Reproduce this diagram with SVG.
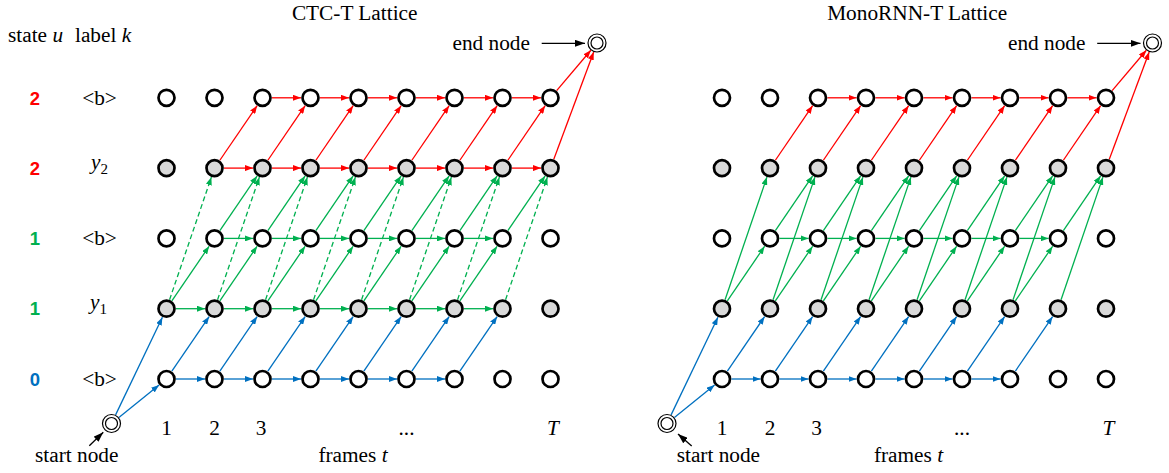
<svg xmlns="http://www.w3.org/2000/svg" width="1169" height="473" viewBox="0 0 1169 473">
  <style>
    .n { stroke: #000; stroke-width: 2.7; fill: #fff; }
    .n.lab { fill: #D9D9D9; }
    .term { stroke: #000; stroke-width: 1.2; fill: #fff; }
    .e line { fill: none; stroke-width: 1.3; }
    .red line { stroke: #FF0000; marker-end: url(#ah-red); }
    .grn line { stroke: #00B050; marker-end: url(#ah-grn); }
    .blu line { stroke: #0070C0; marker-end: url(#ah-blu); }
    .dash line { stroke-dasharray: 5 3; }
    .ptr { stroke: #000; stroke-width: 1.6; marker-end: url(#ah-blk); }
    .t { font-family: "Liberation Serif", "Times New Roman", serif; font-size: 21.3px; fill: #000; }
    .i { font-style: italic; }
    .sub { font-size: 15px; }
    .st { font-family: "Liberation Sans", Arial, sans-serif; font-weight: bold; font-size: 18.5px; text-anchor: middle; }
    .mid { text-anchor: middle; }
  </style>
  <defs>
    <marker id="ah-red" viewBox="0 0 8 6" refX="8" refY="3" markerWidth="8" markerHeight="6" markerUnits="userSpaceOnUse" orient="auto"><path d="M0,0 L8,3 L0,6 z" fill="#FF0000"/></marker>
    <marker id="ah-grn" viewBox="0 0 8 6" refX="8" refY="3" markerWidth="8" markerHeight="6" markerUnits="userSpaceOnUse" orient="auto"><path d="M0,0 L8,3 L0,6 z" fill="#00B050"/></marker>
    <marker id="ah-blu" viewBox="0 0 8 6" refX="8" refY="3" markerWidth="8" markerHeight="6" markerUnits="userSpaceOnUse" orient="auto"><path d="M0,0 L8,3 L0,6 z" fill="#0070C0"/></marker>
    <marker id="ah-blk" viewBox="0 0 10 7" refX="10" refY="3.5" markerWidth="10" markerHeight="7" markerUnits="userSpaceOnUse" orient="auto"><path d="M0,0 L10,3.5 L0,7 z" fill="#000"/></marker>
  </defs>

  <!-- row headings -->
  <g id="row-labels">
    <text class="t" y="42"><tspan x="8">state</tspan><tspan x="52.5" class="i">u</tspan><tspan x="75">label</tspan><tspan x="121.7" class="i">k</tspan></text>
    <text class="st" x="35" y="104.5" fill="#FF0000">2</text>
    <text class="st" x="35" y="174.5" fill="#FF0000">2</text>
    <text class="st" x="35" y="245" fill="#00B050">1</text>
    <text class="st" x="35" y="315" fill="#00B050">1</text>
    <text class="st" x="35" y="385.5" fill="#0070C0">0</text>
    <text class="t mid" x="99.5" y="104.5">&lt;b&gt;</text>
    <text class="t" x="91" y="168.5"><tspan class="i">y</tspan><tspan class="sub" dy="5">2</tspan></text>
    <text class="t mid" x="99.5" y="245">&lt;b&gt;</text>
    <text class="t" x="90" y="309"><tspan class="i">y</tspan><tspan class="sub" dy="5">1</tspan></text>
    <text class="t mid" x="99.5" y="385.5">&lt;b&gt;</text>
  </g>

  <!-- ===================== CTC-T lattice ===================== -->
  <g id="ctc">
    <text class="t mid" x="354.7" y="19.5">CTC-T Lattice</text>

    <g id="ctc-connectors" class="e">
      <g class="blu">
        <line x1="118.9" y1="417.5" x2="159.1" y2="385"/>
        <line x1="115.6" y1="414.9" x2="162.4" y2="317.3"/>
        <line x1="176" y1="379" x2="205" y2="379"/>
        <line x1="224" y1="379" x2="253" y2="379"/>
        <line x1="272" y1="379" x2="301" y2="379"/>
        <line x1="320" y1="379" x2="349" y2="379"/>
        <line x1="368" y1="379" x2="397" y2="379"/>
        <line x1="416" y1="379" x2="445" y2="379"/>
        <line x1="171.86" y1="371.15" x2="209.14" y2="316.55"/>
        <line x1="219.86" y1="371.15" x2="257.14" y2="316.55"/>
        <line x1="267.86" y1="371.15" x2="305.14" y2="316.55"/>
        <line x1="315.86" y1="371.15" x2="353.14" y2="316.55"/>
        <line x1="363.86" y1="371.15" x2="401.14" y2="316.55"/>
        <line x1="411.86" y1="371.15" x2="449.14" y2="316.55"/>
        <line x1="459.86" y1="371.15" x2="497.14" y2="316.55"/>
      </g>
      <g class="grn">
        <!-- y1 self-loops -->
        <line x1="176" y1="308.7" x2="205" y2="308.7"/>
        <line x1="224" y1="308.7" x2="253" y2="308.7"/>
        <line x1="272" y1="308.7" x2="301" y2="308.7"/>
        <line x1="320" y1="308.7" x2="349" y2="308.7"/>
        <line x1="368" y1="308.7" x2="397" y2="308.7"/>
        <line x1="416" y1="308.7" x2="445" y2="308.7"/>
        <line x1="464" y1="308.7" x2="493" y2="308.7"/>
        <!-- y1 to blank -->
        <line x1="171.86" y1="300.85" x2="209.14" y2="246.25"/>
        <line x1="219.86" y1="300.85" x2="257.14" y2="246.25"/>
        <line x1="267.86" y1="300.85" x2="305.14" y2="246.25"/>
        <line x1="315.86" y1="300.85" x2="353.14" y2="246.25"/>
        <line x1="363.86" y1="300.85" x2="401.14" y2="246.25"/>
        <line x1="411.86" y1="300.85" x2="449.14" y2="246.25"/>
        <line x1="459.86" y1="300.85" x2="497.14" y2="246.25"/>
        <!-- blank self-loops -->
        <line x1="224" y1="238.4" x2="253" y2="238.4"/>
        <line x1="272" y1="238.4" x2="301" y2="238.4"/>
        <line x1="320" y1="238.4" x2="349" y2="238.4"/>
        <line x1="368" y1="238.4" x2="397" y2="238.4"/>
        <line x1="416" y1="238.4" x2="445" y2="238.4"/>
        <line x1="464" y1="238.4" x2="493" y2="238.4"/>
        <!-- blank to y2 -->
        <line x1="219.86" y1="230.55" x2="257.14" y2="175.95"/>
        <line x1="267.86" y1="230.55" x2="305.14" y2="175.95"/>
        <line x1="315.86" y1="230.55" x2="353.14" y2="175.95"/>
        <line x1="363.86" y1="230.55" x2="401.14" y2="175.95"/>
        <line x1="411.86" y1="230.55" x2="449.14" y2="175.95"/>
        <line x1="459.86" y1="230.55" x2="497.14" y2="175.95"/>
        <line x1="507.86" y1="230.55" x2="545.14" y2="175.95"/>
      </g>
      <g class="grn dash">
        <!-- y1 directly to y2 -->
        <line x1="169.57" y1="299.71" x2="211.43" y2="177.09"/>
        <line x1="217.57" y1="299.71" x2="259.43" y2="177.09"/>
        <line x1="265.57" y1="299.71" x2="307.43" y2="177.09"/>
        <line x1="313.57" y1="299.71" x2="355.43" y2="177.09"/>
        <line x1="361.57" y1="299.71" x2="403.43" y2="177.09"/>
        <line x1="409.57" y1="299.71" x2="451.43" y2="177.09"/>
        <line x1="457.57" y1="299.71" x2="499.43" y2="177.09"/>
        <line x1="505.57" y1="299.71" x2="547.43" y2="177.09"/>
      </g>
      <g class="red">
        <line x1="224" y1="168.1" x2="253" y2="168.1"/>
        <line x1="272" y1="168.1" x2="301" y2="168.1"/>
        <line x1="320" y1="168.1" x2="349" y2="168.1"/>
        <line x1="368" y1="168.1" x2="397" y2="168.1"/>
        <line x1="416" y1="168.1" x2="445" y2="168.1"/>
        <line x1="464" y1="168.1" x2="493" y2="168.1"/>
        <line x1="512" y1="168.1" x2="541" y2="168.1"/>
        <line x1="219.86" y1="160.25" x2="257.14" y2="105.65"/>
        <line x1="267.86" y1="160.25" x2="305.14" y2="105.65"/>
        <line x1="315.86" y1="160.25" x2="353.14" y2="105.65"/>
        <line x1="363.86" y1="160.25" x2="401.14" y2="105.65"/>
        <line x1="411.86" y1="160.25" x2="449.14" y2="105.65"/>
        <line x1="459.86" y1="160.25" x2="497.14" y2="105.65"/>
        <line x1="507.86" y1="160.25" x2="545.14" y2="105.65"/>
        <line x1="272" y1="97.8" x2="301" y2="97.8"/>
        <line x1="320" y1="97.8" x2="349" y2="97.8"/>
        <line x1="368" y1="97.8" x2="397" y2="97.8"/>
        <line x1="416" y1="97.8" x2="445" y2="97.8"/>
        <line x1="464" y1="97.8" x2="493" y2="97.8"/>
        <line x1="512" y1="97.8" x2="541" y2="97.8"/>
        <line x1="556.65" y1="90.56" x2="590.85" y2="50.24"/>
        <line x1="553.81" y1="159.19" x2="593.69" y2="51.9"/>
      </g>
      <line class="ptr" x1="89.3" y1="445.7" x2="103.3" y2="432.3"/>
      <line class="ptr" x1="541.7" y1="43.3" x2="585" y2="43.3"/>
    </g>

    <g id="ctc-nodes">
      <g id="ctc-start"><circle class="term" cx="111.5" cy="423.5" r="9"/><circle class="term" cx="111.5" cy="423.5" r="6"/></g>
      <g id="ctc-end"><circle class="term" cx="597" cy="43" r="9"/><circle class="term" cx="597" cy="43" r="6"/></g>
      <!-- state 2, blank -->
      <g id="ctc-u4-t1"><circle class="n" cx="166.5" cy="97.8" r="8"/></g>
      <g id="ctc-u4-t2"><circle class="n" cx="214.5" cy="97.8" r="8"/></g>
      <g id="ctc-u4-t3"><circle class="n" cx="262.5" cy="97.8" r="8"/></g>
      <g id="ctc-u4-t4"><circle class="n" cx="310.5" cy="97.8" r="8"/></g>
      <g id="ctc-u4-t5"><circle class="n" cx="358.5" cy="97.8" r="8"/></g>
      <g id="ctc-u4-t6"><circle class="n" cx="406.5" cy="97.8" r="8"/></g>
      <g id="ctc-u4-t7"><circle class="n" cx="454.5" cy="97.8" r="8"/></g>
      <g id="ctc-u4-t8"><circle class="n" cx="502.5" cy="97.8" r="8"/></g>
      <g id="ctc-u4-t9"><circle class="n" cx="550.5" cy="97.8" r="8"/></g>
      <!-- state 2, y2 -->
      <g id="ctc-u3-t1"><circle class="n lab" cx="166.5" cy="168.1" r="8"/></g>
      <g id="ctc-u3-t2"><circle class="n lab" cx="214.5" cy="168.1" r="8"/></g>
      <g id="ctc-u3-t3"><circle class="n lab" cx="262.5" cy="168.1" r="8"/></g>
      <g id="ctc-u3-t4"><circle class="n lab" cx="310.5" cy="168.1" r="8"/></g>
      <g id="ctc-u3-t5"><circle class="n lab" cx="358.5" cy="168.1" r="8"/></g>
      <g id="ctc-u3-t6"><circle class="n lab" cx="406.5" cy="168.1" r="8"/></g>
      <g id="ctc-u3-t7"><circle class="n lab" cx="454.5" cy="168.1" r="8"/></g>
      <g id="ctc-u3-t8"><circle class="n lab" cx="502.5" cy="168.1" r="8"/></g>
      <g id="ctc-u3-t9"><circle class="n lab" cx="550.5" cy="168.1" r="8"/></g>
      <!-- state 1, blank -->
      <g id="ctc-u2-t1"><circle class="n" cx="166.5" cy="238.4" r="8"/></g>
      <g id="ctc-u2-t2"><circle class="n" cx="214.5" cy="238.4" r="8"/></g>
      <g id="ctc-u2-t3"><circle class="n" cx="262.5" cy="238.4" r="8"/></g>
      <g id="ctc-u2-t4"><circle class="n" cx="310.5" cy="238.4" r="8"/></g>
      <g id="ctc-u2-t5"><circle class="n" cx="358.5" cy="238.4" r="8"/></g>
      <g id="ctc-u2-t6"><circle class="n" cx="406.5" cy="238.4" r="8"/></g>
      <g id="ctc-u2-t7"><circle class="n" cx="454.5" cy="238.4" r="8"/></g>
      <g id="ctc-u2-t8"><circle class="n" cx="502.5" cy="238.4" r="8"/></g>
      <g id="ctc-u2-t9"><circle class="n" cx="550.5" cy="238.4" r="8"/></g>
      <!-- state 1, y1 -->
      <g id="ctc-u1-t1"><circle class="n lab" cx="166.5" cy="308.7" r="8"/></g>
      <g id="ctc-u1-t2"><circle class="n lab" cx="214.5" cy="308.7" r="8"/></g>
      <g id="ctc-u1-t3"><circle class="n lab" cx="262.5" cy="308.7" r="8"/></g>
      <g id="ctc-u1-t4"><circle class="n lab" cx="310.5" cy="308.7" r="8"/></g>
      <g id="ctc-u1-t5"><circle class="n lab" cx="358.5" cy="308.7" r="8"/></g>
      <g id="ctc-u1-t6"><circle class="n lab" cx="406.5" cy="308.7" r="8"/></g>
      <g id="ctc-u1-t7"><circle class="n lab" cx="454.5" cy="308.7" r="8"/></g>
      <g id="ctc-u1-t8"><circle class="n lab" cx="502.5" cy="308.7" r="8"/></g>
      <g id="ctc-u1-t9"><circle class="n lab" cx="550.5" cy="308.7" r="8"/></g>
      <!-- state 0, blank -->
      <g id="ctc-u0-t1"><circle class="n" cx="166.5" cy="379" r="8"/></g>
      <g id="ctc-u0-t2"><circle class="n" cx="214.5" cy="379" r="8"/></g>
      <g id="ctc-u0-t3"><circle class="n" cx="262.5" cy="379" r="8"/></g>
      <g id="ctc-u0-t4"><circle class="n" cx="310.5" cy="379" r="8"/></g>
      <g id="ctc-u0-t5"><circle class="n" cx="358.5" cy="379" r="8"/></g>
      <g id="ctc-u0-t6"><circle class="n" cx="406.5" cy="379" r="8"/></g>
      <g id="ctc-u0-t7"><circle class="n" cx="454.5" cy="379" r="8"/></g>
      <g id="ctc-u0-t8"><circle class="n" cx="502.5" cy="379" r="8"/></g>
      <g id="ctc-u0-t9"><circle class="n" cx="550.5" cy="379" r="8"/></g>
    </g>

    <g id="ctc-axis">
      <text class="t" x="452.5" y="50">end node</text>
      <text class="t" x="35" y="462">start node</text>
      <text class="t mid" x="166.5" y="435">1</text>
      <text class="t mid" x="214.5" y="435">2</text>
      <text class="t mid" x="261" y="435">3</text>
      <text class="t mid" x="406.5" y="435">...</text>
      <text class="t mid i" x="553" y="435">T</text>
      <text class="t mid" x="353" y="462">frames <tspan class="i">t</tspan></text>
    </g>
  </g>

  <!-- ===================== MonoRNN-T lattice ===================== -->
  <text class="t mid" x="917.2" y="19.5">MonoRNN-T Lattice</text>
  <g id="mono" transform="translate(555.5 0)">
    <g id="mono-connectors" class="e">
      <g class="blu">
        <line x1="118.9" y1="417.5" x2="159.1" y2="385"/>
        <line x1="115.6" y1="414.9" x2="162.4" y2="317.3"/>
        <line x1="176" y1="379" x2="205" y2="379"/>
        <line x1="224" y1="379" x2="253" y2="379"/>
        <line x1="272" y1="379" x2="301" y2="379"/>
        <line x1="320" y1="379" x2="349" y2="379"/>
        <line x1="368" y1="379" x2="397" y2="379"/>
        <line x1="416" y1="379" x2="445" y2="379"/>
        <line x1="171.86" y1="371.15" x2="209.14" y2="316.55"/>
        <line x1="219.86" y1="371.15" x2="257.14" y2="316.55"/>
        <line x1="267.86" y1="371.15" x2="305.14" y2="316.55"/>
        <line x1="315.86" y1="371.15" x2="353.14" y2="316.55"/>
        <line x1="363.86" y1="371.15" x2="401.14" y2="316.55"/>
        <line x1="411.86" y1="371.15" x2="449.14" y2="316.55"/>
        <line x1="459.86" y1="371.15" x2="497.14" y2="316.55"/>
      </g>
      <g class="grn">
        <!-- y1 to blank -->
        <line x1="171.86" y1="300.85" x2="209.14" y2="246.25"/>
        <line x1="219.86" y1="300.85" x2="257.14" y2="246.25"/>
        <line x1="267.86" y1="300.85" x2="305.14" y2="246.25"/>
        <line x1="315.86" y1="300.85" x2="353.14" y2="246.25"/>
        <line x1="363.86" y1="300.85" x2="401.14" y2="246.25"/>
        <line x1="411.86" y1="300.85" x2="449.14" y2="246.25"/>
        <line x1="459.86" y1="300.85" x2="497.14" y2="246.25"/>
        <!-- blank self-loops -->
        <line x1="224" y1="238.4" x2="253" y2="238.4"/>
        <line x1="272" y1="238.4" x2="301" y2="238.4"/>
        <line x1="320" y1="238.4" x2="349" y2="238.4"/>
        <line x1="368" y1="238.4" x2="397" y2="238.4"/>
        <line x1="416" y1="238.4" x2="445" y2="238.4"/>
        <line x1="464" y1="238.4" x2="493" y2="238.4"/>
        <!-- blank to y2 -->
        <line x1="219.86" y1="230.55" x2="257.14" y2="175.95"/>
        <line x1="267.86" y1="230.55" x2="305.14" y2="175.95"/>
        <line x1="315.86" y1="230.55" x2="353.14" y2="175.95"/>
        <line x1="363.86" y1="230.55" x2="401.14" y2="175.95"/>
        <line x1="411.86" y1="230.55" x2="449.14" y2="175.95"/>
        <line x1="459.86" y1="230.55" x2="497.14" y2="175.95"/>
        <line x1="507.86" y1="230.55" x2="545.14" y2="175.95"/>
        <!-- y1 directly to y2 -->
        <line x1="169.57" y1="299.71" x2="211.43" y2="177.09"/>
        <line x1="217.57" y1="299.71" x2="259.43" y2="177.09"/>
        <line x1="265.57" y1="299.71" x2="307.43" y2="177.09"/>
        <line x1="313.57" y1="299.71" x2="355.43" y2="177.09"/>
        <line x1="361.57" y1="299.71" x2="403.43" y2="177.09"/>
        <line x1="409.57" y1="299.71" x2="451.43" y2="177.09"/>
        <line x1="457.57" y1="299.71" x2="499.43" y2="177.09"/>
        <line x1="505.57" y1="299.71" x2="547.43" y2="177.09"/>
      </g>
      <g class="red">
        <line x1="219.86" y1="160.25" x2="257.14" y2="105.65"/>
        <line x1="267.86" y1="160.25" x2="305.14" y2="105.65"/>
        <line x1="315.86" y1="160.25" x2="353.14" y2="105.65"/>
        <line x1="363.86" y1="160.25" x2="401.14" y2="105.65"/>
        <line x1="411.86" y1="160.25" x2="449.14" y2="105.65"/>
        <line x1="459.86" y1="160.25" x2="497.14" y2="105.65"/>
        <line x1="507.86" y1="160.25" x2="545.14" y2="105.65"/>
        <line x1="272" y1="97.8" x2="301" y2="97.8"/>
        <line x1="320" y1="97.8" x2="349" y2="97.8"/>
        <line x1="368" y1="97.8" x2="397" y2="97.8"/>
        <line x1="416" y1="97.8" x2="445" y2="97.8"/>
        <line x1="464" y1="97.8" x2="493" y2="97.8"/>
        <line x1="512" y1="97.8" x2="541" y2="97.8"/>
        <line x1="556.65" y1="90.56" x2="590.85" y2="50.24"/>
        <line x1="553.81" y1="159.19" x2="593.69" y2="51.9"/>
      </g>
      <line class="ptr" x1="136.2" y1="446" x2="122.5" y2="434"/>
      <line class="ptr" x1="541.7" y1="43.3" x2="585" y2="43.3"/>
    </g>

    <g id="mono-nodes">
      <g id="mono-start"><circle class="term" cx="111.5" cy="423.5" r="9"/><circle class="term" cx="111.5" cy="423.5" r="6"/></g>
      <g id="mono-end"><circle class="term" cx="597" cy="43" r="9"/><circle class="term" cx="597" cy="43" r="6"/></g>
      <!-- state 2, blank -->
      <g id="mono-u4-t1"><circle class="n" cx="166.5" cy="97.8" r="8"/></g>
      <g id="mono-u4-t2"><circle class="n" cx="214.5" cy="97.8" r="8"/></g>
      <g id="mono-u4-t3"><circle class="n" cx="262.5" cy="97.8" r="8"/></g>
      <g id="mono-u4-t4"><circle class="n" cx="310.5" cy="97.8" r="8"/></g>
      <g id="mono-u4-t5"><circle class="n" cx="358.5" cy="97.8" r="8"/></g>
      <g id="mono-u4-t6"><circle class="n" cx="406.5" cy="97.8" r="8"/></g>
      <g id="mono-u4-t7"><circle class="n" cx="454.5" cy="97.8" r="8"/></g>
      <g id="mono-u4-t8"><circle class="n" cx="502.5" cy="97.8" r="8"/></g>
      <g id="mono-u4-t9"><circle class="n" cx="550.5" cy="97.8" r="8"/></g>
      <!-- state 2, y2 -->
      <g id="mono-u3-t1"><circle class="n lab" cx="166.5" cy="168.1" r="8"/></g>
      <g id="mono-u3-t2"><circle class="n lab" cx="214.5" cy="168.1" r="8"/></g>
      <g id="mono-u3-t3"><circle class="n lab" cx="262.5" cy="168.1" r="8"/></g>
      <g id="mono-u3-t4"><circle class="n lab" cx="310.5" cy="168.1" r="8"/></g>
      <g id="mono-u3-t5"><circle class="n lab" cx="358.5" cy="168.1" r="8"/></g>
      <g id="mono-u3-t6"><circle class="n lab" cx="406.5" cy="168.1" r="8"/></g>
      <g id="mono-u3-t7"><circle class="n lab" cx="454.5" cy="168.1" r="8"/></g>
      <g id="mono-u3-t8"><circle class="n lab" cx="502.5" cy="168.1" r="8"/></g>
      <g id="mono-u3-t9"><circle class="n lab" cx="550.5" cy="168.1" r="8"/></g>
      <!-- state 1, blank -->
      <g id="mono-u2-t1"><circle class="n" cx="166.5" cy="238.4" r="8"/></g>
      <g id="mono-u2-t2"><circle class="n" cx="214.5" cy="238.4" r="8"/></g>
      <g id="mono-u2-t3"><circle class="n" cx="262.5" cy="238.4" r="8"/></g>
      <g id="mono-u2-t4"><circle class="n" cx="310.5" cy="238.4" r="8"/></g>
      <g id="mono-u2-t5"><circle class="n" cx="358.5" cy="238.4" r="8"/></g>
      <g id="mono-u2-t6"><circle class="n" cx="406.5" cy="238.4" r="8"/></g>
      <g id="mono-u2-t7"><circle class="n" cx="454.5" cy="238.4" r="8"/></g>
      <g id="mono-u2-t8"><circle class="n" cx="502.5" cy="238.4" r="8"/></g>
      <g id="mono-u2-t9"><circle class="n" cx="550.5" cy="238.4" r="8"/></g>
      <!-- state 1, y1 -->
      <g id="mono-u1-t1"><circle class="n lab" cx="166.5" cy="308.7" r="8"/></g>
      <g id="mono-u1-t2"><circle class="n lab" cx="214.5" cy="308.7" r="8"/></g>
      <g id="mono-u1-t3"><circle class="n lab" cx="262.5" cy="308.7" r="8"/></g>
      <g id="mono-u1-t4"><circle class="n lab" cx="310.5" cy="308.7" r="8"/></g>
      <g id="mono-u1-t5"><circle class="n lab" cx="358.5" cy="308.7" r="8"/></g>
      <g id="mono-u1-t6"><circle class="n lab" cx="406.5" cy="308.7" r="8"/></g>
      <g id="mono-u1-t7"><circle class="n lab" cx="454.5" cy="308.7" r="8"/></g>
      <g id="mono-u1-t8"><circle class="n lab" cx="502.5" cy="308.7" r="8"/></g>
      <g id="mono-u1-t9"><circle class="n lab" cx="550.5" cy="308.7" r="8"/></g>
      <!-- state 0, blank -->
      <g id="mono-u0-t1"><circle class="n" cx="166.5" cy="379" r="8"/></g>
      <g id="mono-u0-t2"><circle class="n" cx="214.5" cy="379" r="8"/></g>
      <g id="mono-u0-t3"><circle class="n" cx="262.5" cy="379" r="8"/></g>
      <g id="mono-u0-t4"><circle class="n" cx="310.5" cy="379" r="8"/></g>
      <g id="mono-u0-t5"><circle class="n" cx="358.5" cy="379" r="8"/></g>
      <g id="mono-u0-t6"><circle class="n" cx="406.5" cy="379" r="8"/></g>
      <g id="mono-u0-t7"><circle class="n" cx="454.5" cy="379" r="8"/></g>
      <g id="mono-u0-t8"><circle class="n" cx="502.5" cy="379" r="8"/></g>
      <g id="mono-u0-t9"><circle class="n" cx="550.5" cy="379" r="8"/></g>
    </g>

    <g id="mono-axis">
      <text class="t" x="452.5" y="50">end node</text>
      <text class="t" x="121.2" y="462">start node</text>
      <text class="t mid" x="166.5" y="435">1</text>
      <text class="t mid" x="214.5" y="435">2</text>
      <text class="t mid" x="261" y="435">3</text>
      <text class="t mid" x="406.5" y="435">...</text>
      <text class="t mid i" x="553" y="435">T</text>
      <text class="t mid" x="353" y="462">frames <tspan class="i">t</tspan></text>
    </g>
  </g>
</svg>
